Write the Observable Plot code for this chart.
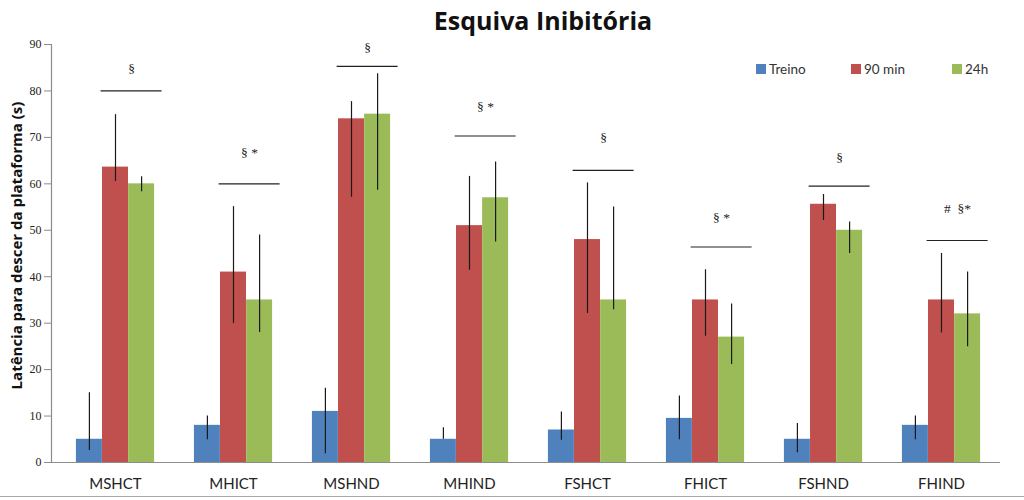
<!DOCTYPE html>
<html><head><meta charset="utf-8">
<script src="https://cdn.jsdelivr.net/npm/d3@7"></script>
<script src="https://cdn.jsdelivr.net/npm/@observablehq/plot@0.6"></script>
<style>
body{margin:0;background:#fff;}
#wrap{position:relative;width:1024px;height:500px;overflow:hidden;font-family:Lato,sans-serif;}
#title{position:absolute;top:7px;left:0;width:1086px;text-align:center;font-weight:bold;font-size:25px;line-height:26px;color:#111;font-family:"Open Sans",sans-serif;z-index:2;}
#legend{position:absolute;top:61px;left:0;width:1024px;height:18px;z-index:2;}
.item{position:absolute;display:flex;align-items:center;font-size:13.5px;color:#333;}
.sw{width:10px;height:10px;margin-right:3px;}
#border{position:absolute;left:0;top:496px;width:1024px;height:1px;background:#aaa;}
</style></head>
<body>
<div id="wrap">
  <div id="title">Esquiva Inibitória</div>
  <div id="legend"></div>
  <div id="chart"></div>
  <div id="border"></div>
</div>
<script>
// Categories
const cats = ["MSHCT","MHICT","MSHND","MHIND","FSHCT","FHICT","FSHND","FHIND"];
const seriesNames = ["Treino","90 min","24h"];
const seriesColors = ["#4F81BD","#C0504D","#9BBB59"];

// Series values (bar heights)
const treino = [5, 8, 11, 5, 7, 9.5, 5, 8];
const min90  = [63.6, 41, 74, 51, 48, 35, 55.6, 35];
const h24    = [60, 35, 75, 57, 35, 27, 50, 32];

// Error bar limits (low / high)
const treinoLo = [2.6, 4.9, 1.9, 5, 4.8, 4.9, 2.1, 4.9];
const treinoHi = [15, 10, 16, 7.5, 10.9, 14.3, 8.4, 10];
const min90Lo  = [60.5, 29.9, 57.1, 41.4, 32.1, 27.2, 52.1, 27.9];
const min90Hi  = [74.9, 55.1, 77.7, 61.6, 60.2, 41.5, 57.7, 45];
const h24Lo    = [58.3, 28, 58.6, 47.5, 32.9, 21.1, 45, 24.9];
const h24Hi    = [61.5, 49, 83.7, 64.7, 55, 34.1, 51.8, 41];

// Significance annotations
const signs     = ["§","§ *","§","§ *","§","§ *","§","#  §*"];
const signLineY = [80, 60, 85.3, 70.3, 62.9, 46.4, 59.5, 47.8];
const signTextY = [84.8, 66.8, 89.3, 76.7, 69.9, 52.8, 65.6, 54.6];

const yTicks = [0,10,20,30,40,50,60,70,80,90];
const yLabel = "Latência para descer da plataforma (s)";

const values = [treino, min90, h24];
const los = [treinoLo, min90Lo, h24Lo];
const his = [treinoHi, min90Hi, h24Hi];
const rows = cats.flatMap((c, i) => seriesNames.map((s, k) => ({
  cat: c, series: s, value: values[k][i], lo: los[k][i], hi: his[k][i]
})));
const annot = cats.map((c, i) => ({cat: c, sign: signs[i], line: signLineY[i], ty: signTextY[i]}));

const x0 = 55, x1 = 1000;
const bw = (x1 - x0) / cats.length;
const barW = 26.1;
const off = (bw - 3 * barW) / 2;

const marks = [];
seriesNames.forEach((s, k) => {
  marks.push(Plot.barY(rows.filter(d => d.series === s), {
    x: "cat", y: "value", fill: "series",
    insetLeft: off + k * barW, insetRight: bw - off - (k + 1) * barW
  }));
});
seriesNames.forEach((s, k) => {
  marks.push(Plot.ruleX(rows.filter(d => d.series === s), {
    x: "cat", y1: "lo", y2: "hi", dx: (k - 1) * barW, stroke: "#1a1a1a", strokeWidth: 1.2
  }));
});
marks.push(
  Plot.ruleY([0], {stroke: "#8c8c8c", strokeWidth: 1.2}),
  Plot.frame({anchor: "left", stroke: "#8c8c8c", strokeWidth: 1.2}),
  Plot.ruleY(annot, {x1: "cat", x2: "cat", y: "line", insetLeft: 44.6, insetRight: 12.4, stroke: "#222", strokeWidth: 1.2}),
  Plot.text(annot, {x: "cat", y: "ty", text: "sign", dx: 16, fontFamily: "Liberation Serif", fontSize: 13.5, fill: "#222"}),
  Plot.axisY({ticks: yTicks, tickSize: 7, tickPadding: 3, stroke: "#8c8c8c", fill: "#222", fontFamily: "Liberation Serif", fontSize: 12, label: null}),
  Plot.axisX({tickSize: 0, tickPadding: 16, fontSize: 15, fill: "#222", label: null}),
  Plot.text([yLabel], {text: d => d, frameAnchor: "left", textAnchor: "middle", rotate: -90, dx: -34, dy: -8, fontWeight: "bold", fontSize: 15, fontFamily: "Open Sans", fill: "#111"})
);

const chart = Plot.plot({
  width: 1024, height: 500,
  marginTop: 44, marginBottom: 38, marginLeft: 51, marginRight: 24,
  style: {fontFamily: "Lato, sans-serif", background: "transparent"},
  x: {type: "band", domain: cats, range: [x0, x1], padding: 0, axis: null},
  y: {domain: [0, 90], axis: null},
  color: {domain: seriesNames, range: seriesColors},
  marks
});
document.getElementById("chart").appendChild(chart);

// Legend
const legendLeft = [756, 851, 952];
const legend = document.getElementById("legend");
seriesNames.forEach((s, k) => {
  const it = document.createElement("div");
  it.className = "item";
  it.style.left = legendLeft[k] + "px";
  const sw = document.createElement("span");
  sw.className = "sw"; sw.style.background = seriesColors[k];
  const t = document.createElement("span"); t.textContent = s;
  it.appendChild(sw); it.appendChild(t);
  legend.appendChild(it);
});
</script>
</body></html>
